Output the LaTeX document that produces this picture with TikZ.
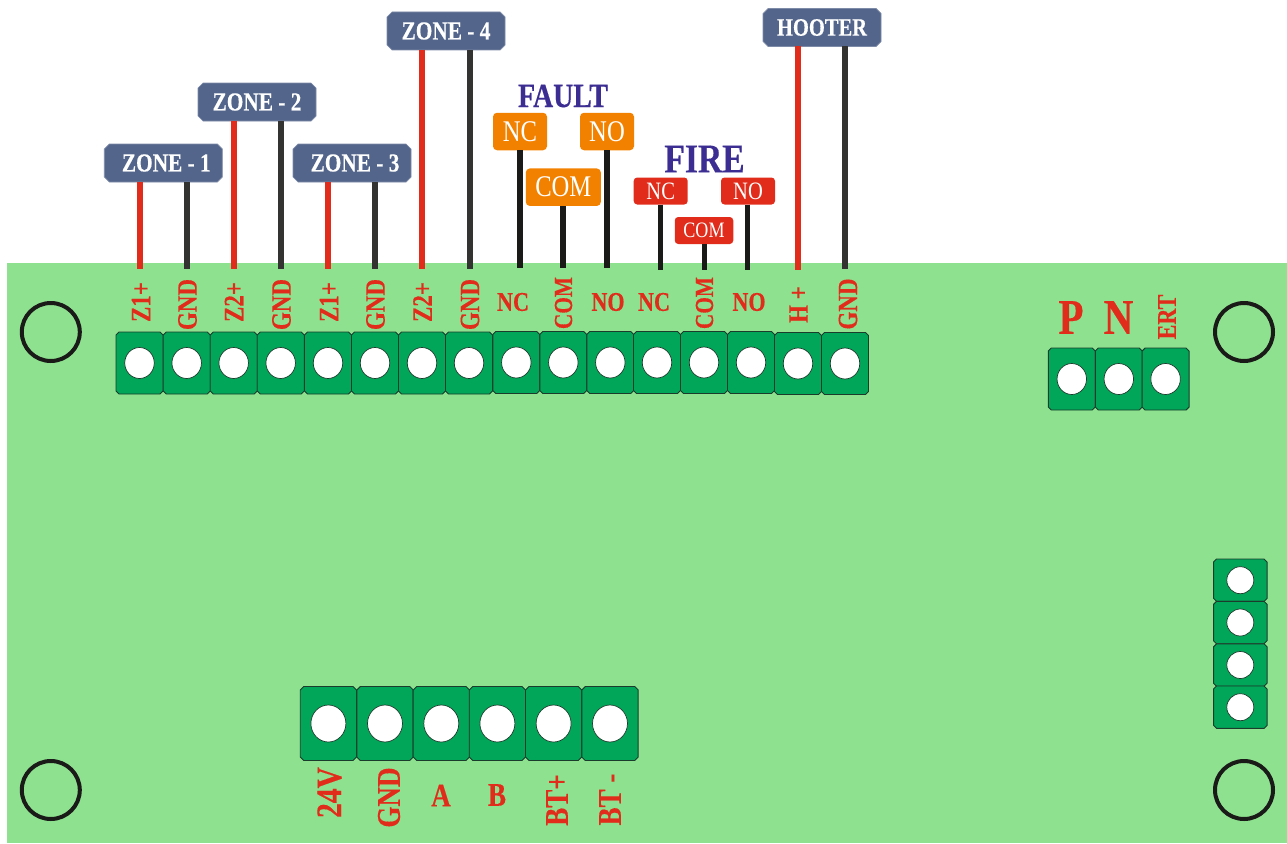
\documentclass[tikz,border=0pt]{standalone}
\usepackage{fontspec}
\setmainfont[FakeStretch=0.82,BoldFeatures={FakeStretch=0.82,FakeBold=0.35}]{Liberation Serif}
\usetikzlibrary{shapes.geometric}
\definecolor{boardgreen}{HTML}{8EE18F}
\definecolor{termgreen}{HTML}{02A659}
\definecolor{termedge}{HTML}{1B3B2C}
\definecolor{wirered}{HTML}{E12C1B}
\definecolor{wiredark}{HTML}{333331}
\definecolor{wireblack}{HTML}{1A1A18}
\definecolor{tagblue}{HTML}{53658B}
\definecolor{tagorange}{HTML}{F38100}
\definecolor{headblue}{HTML}{3C2D92}
\pgfdeclarelayer{under}
\pgfsetlayers{under,main}
\newcommand{\fsz}[1]{\fontsize{#1}{#1}\selectfont}
% chamfered outline around node #1, chamfer #2 (pt), look #3
\newcommand{\chamf}[3]{%
  \begin{pgfonlayer}{under}
  \draw[#3] ([xshift=#2pt]#1.north west) -- ([xshift=-#2pt]#1.north east)
    -- ([yshift=-#2pt]#1.north east) -- ([yshift=#2pt]#1.south east)
    -- ([xshift=-#2pt]#1.south east) -- ([xshift=#2pt]#1.south west)
    -- ([yshift=#2pt]#1.south west) -- ([yshift=-#2pt]#1.north west) -- cycle;
  \end{pgfonlayer}}
\tikzset{
  x=1pt,y=-1pt,
  termbox/.style={rectangle,inner sep=0pt,outer sep=0pt,minimum width=47pt,minimum height=62pt},
  termbig/.style={termbox,minimum width=56.3pt,minimum height=74pt},
  termside/.style={termbox,minimum width=53.5pt,minimum height=42.4pt},
  termlook/.style={draw=termedge,line width=0.9pt,fill=termgreen},
  hole/.style={ellipse,draw=termedge,line width=0.7pt,fill=white,inner sep=0pt,outer sep=0pt,
    minimum width=29.5pt,minimum height=31pt},
  holebig/.style={hole,minimum width=35pt,minimum height=37pt},
  holeside/.style={hole,minimum width=27pt,minimum height=27pt},
  mount/.style={circle,draw=wireblack,line width=4pt,inner sep=0pt,outer sep=0pt,minimum size=58pt},
  pinlab/.style={text=wirered,inner sep=0pt,font=\bfseries\fsz{28}},
  pinup/.style={pinlab,rotate=90},
  pinbig/.style={pinlab,font=\bfseries\fsz{33}},
  zonetag/.style={rectangle,text=white,inner sep=0pt,outer sep=0pt,
    minimum width=118pt,minimum height=38pt,font=\bfseries\fsz{26}},
  zonelook/.style={draw=tagblue!75!white,line width=0.7pt,fill=tagblue},
  orangetag/.style={rectangle,rounded corners=4pt,fill=tagorange,text=white,inner sep=0pt,
    minimum height=37.5pt,font=\fsz{30}},
  redtag/.style={rectangle,rounded corners=3.5pt,fill=wirered,text=white,inner sep=0pt,
    minimum height=27pt,font=\fsz{25}},
  head/.style={text=headblue,inner sep=0pt,font=\bfseries\fsz{38}},
  redwire/.style={draw=wirered,line width=6pt},
  darkwire/.style={draw=wiredark,line width=6pt},
  blackwire/.style={draw=wireblack,line width=6pt},
  firewire/.style={draw=wireblack,line width=5pt},
}
\begin{document}
\begin{tikzpicture}
\useasboundingbox (0,0) rectangle (1287,843);
\begin{pgfonlayer}{under}
\fill[boardgreen] (7,263) rectangle (1287,843);
\end{pgfonlayer}
% mounting holes
\node[mount] (m1) at (50.8,332) {};
\node[mount] (m2) at (1244,332) {};
\node[mount] (m3) at (50.8,790) {};
\node[mount] (m4) at (1244,790) {};
% top terminal strip
\foreach \i/\x/\y in {1/139.5/363,2/186.7/363,3/233.7/363,4/280.7/363,5/328/363,6/375/363,7/422/363,8/469/363,9/516.3/362.5,10/563.3/362.5,11/610.3/362.5,12/657/362.5,13/704/362.5,14/751/362.5,15/798/363.5,16/845/363.5}{
  \node[termbox] (t\i) at (\x,\y) {};
  \chamf{t\i}{3}{termlook}
  \node[hole] (th\i) at (t\i) {};
}
% mains terminal strip
\foreach \i/\x in {1/1071.8,2/1118.8,3/1165.6}{
  \node[termbox] (p\i) at (\x,379) {};
  \chamf{p\i}{3}{termlook}
  \node[hole] (ph\i) at (p\i) {};
}
% side strip
\foreach \i/\y in {1/580.2,2/622.5,3/665,4/707.2}{
  \node[termside] (s\i) at (1240.3,\y) {};
  \chamf{s\i}{3}{termlook}
  \node[holeside] (sh\i) at (s\i) {};
}
% bottom strip
\foreach \i/\x in {1/328.4,2/385,3/441.3,4/497.4,5/553.6,6/610}{
  \node[termbig] (b\i) at (\x,723.5) {};
  \chamf{b\i}{3.5}{termlook}
  \node[holebig] (bh\i) at (b\i) {};
}
% zone tags
\node[zonetag] (zone1) at (163.3,163) {\hspace{6pt}ZONE - 1};
\node[zonetag] (zone2) at (257,102) {ZONE - 2};
\node[zonetag] (zone3) at (352,163) {\hspace{6pt}ZONE - 3};
\node[zonetag] (zone4) at (446,31) {ZONE - 4};
\node[zonetag,font=\bfseries\fsz{25}] (hooter) at (822,27.5) {HOOTER};
\chamf{zone1}{5}{zonelook}
\chamf{zone2}{5}{zonelook}
\chamf{zone3}{5}{zonelook}
\chamf{zone4}{5}{zonelook}
\chamf{hooter}{5}{zonelook}
% fault and fire tags
\node[head,font=\bfseries\fsz{34}] (fault) at (563,96) {FAULT};
\node[head,font=\bfseries\fsz{41}] (fire) at (704.5,159) {FIRE};
\node[orangetag,minimum width=54pt] (fnc) at (520,131.5) {NC};
\node[orangetag,minimum width=54pt] (fno) at (607,131.5) {NO};
\node[orangetag,minimum width=75pt] (fcom) at (563.3,187.2) {COM};
\node[redtag,minimum width=54pt] (rnc) at (660.7,191) {NC};
\node[redtag,minimum width=54pt] (rno) at (748,191) {NO};
\node[redtag,minimum width=58.5pt,font=\fsz{22}] (rcom) at (704,230.5) {COM};
% wire ends on the board
\foreach \n/\x/\y in {a/140/269,b/187/269,c/234/269,d/281/269,e/328/269,f/375/269,g/422/269,h/469.7/269,i/519.7/268,j/563.3/268,k/607/268,l/660.5/270,m/704/270,n/747.7/270,o/798/270,p/845/269}{
  \coordinate (w\n) at (\x,\y);
}
\draw[redwire] (zone1.south -| wa) -- (wa);
\draw[darkwire] (zone1.south -| wb) -- (wb);
\draw[redwire] (zone2.south -| wc) -- (wc);
\draw[darkwire] (zone2.south -| wd) -- (wd);
\draw[redwire] (zone3.south -| we) -- (we);
\draw[darkwire] (zone3.south -| wf) -- (wf);
\draw[redwire] (zone4.south -| wg) -- (wg);
\draw[darkwire] (zone4.south -| wh) -- (wh);
\draw[blackwire] (fnc.south -| wi) -- (wi);
\draw[blackwire] (fcom.south -| wj) -- (wj);
\draw[blackwire] (fno.south -| wk) -- (wk);
\draw[firewire] (rnc.south -| wl) -- (wl);
\draw[firewire] (rcom.south -| wm) -- (wm);
\draw[firewire] (rno.south -| wn) -- (wn);
\draw[redwire] (hooter.south -| wo) -- (wo);
\draw[darkwire] (hooter.south -| wp) -- (wp);
% pin labels, top strip
\node[pinup] (l1) at (141,302) {Z1+};
\node[pinup] (l2) at (187.5,304.5) {GND};
\node[pinup] (l3) at (234,302) {Z2+};
\node[pinup] (l4) at (281.5,304.5) {GND};
\node[pinup] (l5) at (329,302) {Z1+};
\node[pinup] (l6) at (375.5,304.5) {GND};
\node[pinup] (l7) at (422.5,302) {Z2+};
\node[pinup] (l8) at (470,304.5) {GND};
\node[pinlab,font=\bfseries\fsz{27}] (l9) at (513,302) {NC};
\node[pinup,font=\bfseries\fsz{26}] (l10) at (563.5,303) {COM};
\node[pinlab,font=\bfseries\fsz{27}] (l11) at (608,302) {NO};
\node[pinlab,font=\bfseries\fsz{27}] (l12) at (654,302) {NC};
\node[pinup,font=\bfseries\fsz{26}] (l13) at (704.5,303) {COM};
\node[pinlab,font=\bfseries\fsz{27}] (l14) at (749,302) {NO};
\node[pinup] (l15) at (798.5,304.5) {H +};
\node[pinup] (l16) at (848,304) {GND};
% mains labels
\node[pinlab,font=\bfseries\fsz{50}] (lp) at (1071,317.5) {P};
\node[pinlab,font=\bfseries\fsz{50}] (ln) at (1118.5,317.5) {N};
\node[pinup,font=\bfseries\fsz{27}] (le) at (1167,317) {ERT};
% bottom labels
\node[pinbig,rotate=90,font=\bfseries\fsz{36}] (q1) at (329.5,792.5) {24V};
\node[pinbig,rotate=90] (q2) at (389,797.5) {GND};
\node[pinbig] (q3) at (441,795.5) {A};
\node[pinbig] (q4) at (497,795) {B};
\node[pinbig,rotate=90] (q5) at (557,800) {BT+};
\node[pinbig,rotate=90] (q6) at (610,799.5) {BT -};
\end{tikzpicture}
\end{document}
